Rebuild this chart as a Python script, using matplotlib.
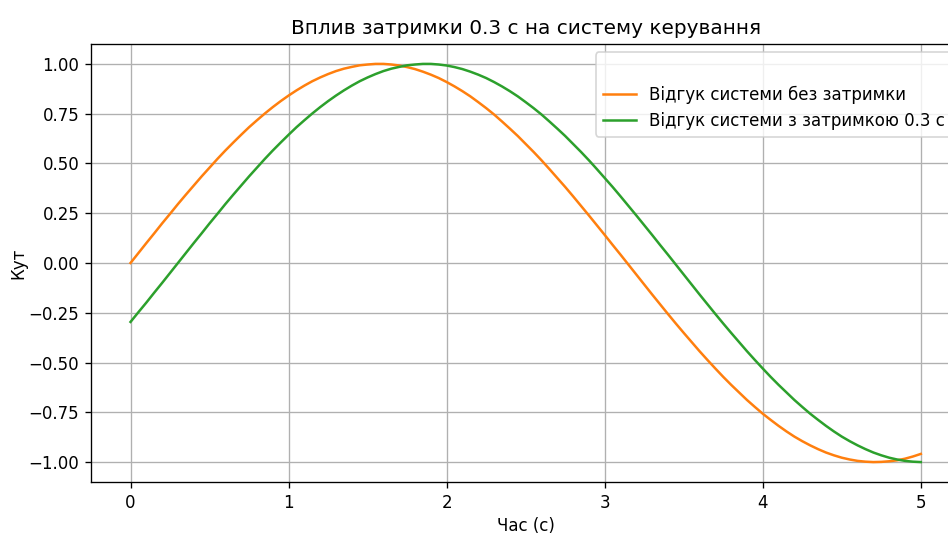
import matplotlib.pyplot as plt

# time axis, 0..5 s, step 0.05
t = [0.00, 0.05, 0.10, 0.15, 0.20, 0.25, 0.30, 0.35, 0.40, 0.45,
     0.50, 0.55, 0.60, 0.65, 0.70, 0.75, 0.80, 0.85, 0.90, 0.95,
     1.00, 1.05, 1.10, 1.15, 1.20, 1.25, 1.30, 1.35, 1.40, 1.45,
     1.50, 1.55, 1.60, 1.65, 1.70, 1.75, 1.80, 1.85, 1.90, 1.95,
     2.00, 2.05, 2.10, 2.15, 2.20, 2.25, 2.30, 2.35, 2.40, 2.45,
     2.50, 2.55, 2.60, 2.65, 2.70, 2.75, 2.80, 2.85, 2.90, 2.95,
     3.00, 3.05, 3.10, 3.15, 3.20, 3.25, 3.30, 3.35, 3.40, 3.45,
     3.50, 3.55, 3.60, 3.65, 3.70, 3.75, 3.80, 3.85, 3.90, 3.95,
     4.00, 4.05, 4.10, 4.15, 4.20, 4.25, 4.30, 4.35, 4.40, 4.45,
     4.50, 4.55, 4.60, 4.65, 4.70, 4.75, 4.80, 4.85, 4.90, 4.95, 5.00]

# angle without delay
no_delay = [0.000, 0.050, 0.100, 0.149, 0.199, 0.247, 0.296, 0.343, 0.389, 0.435,
            0.479, 0.523, 0.565, 0.605, 0.644, 0.682, 0.717, 0.751, 0.783, 0.813,
            0.841, 0.867, 0.891, 0.913, 0.932, 0.949, 0.964, 0.976, 0.985, 0.993,
            0.997, 1.000, 1.000, 0.997, 0.992, 0.984, 0.974, 0.961, 0.946, 0.929,
            0.909, 0.887, 0.863, 0.837, 0.808, 0.778, 0.746, 0.711, 0.675, 0.638,
            0.598, 0.558, 0.516, 0.472, 0.427, 0.382, 0.335, 0.287, 0.239, 0.190,
            0.141, 0.091, 0.042, -0.008, -0.058, -0.108, -0.158, -0.207, -0.256, -0.304,
            -0.351, -0.397, -0.443, -0.487, -0.530, -0.572, -0.612, -0.650, -0.688, -0.723,
            -0.757, -0.788, -0.818, -0.846, -0.872, -0.895, -0.916, -0.935, -0.952, -0.966,
            -0.978, -0.987, -0.994, -0.998, -1.000, -0.999, -0.996, -0.991, -0.983, -0.972, -0.959]

# angle with 0.3 s delay
with_delay = [-0.296, -0.247, -0.199, -0.149, -0.100, -0.050, 0.000, 0.050, 0.100, 0.149,
              0.199, 0.247, 0.296, 0.343, 0.389, 0.435, 0.479, 0.523, 0.565, 0.605,
              0.644, 0.682, 0.717, 0.751, 0.783, 0.813, 0.841, 0.867, 0.891, 0.913,
              0.932, 0.949, 0.964, 0.976, 0.985, 0.993, 0.997, 1.000, 1.000, 0.997,
              0.992, 0.984, 0.974, 0.961, 0.946, 0.929, 0.909, 0.887, 0.863, 0.837,
              0.808, 0.778, 0.746, 0.711, 0.675, 0.638, 0.598, 0.558, 0.516, 0.472,
              0.427, 0.382, 0.335, 0.287, 0.239, 0.190, 0.141, 0.091, 0.042, -0.008,
              -0.058, -0.108, -0.158, -0.207, -0.256, -0.304, -0.351, -0.397, -0.443, -0.487,
              -0.530, -0.572, -0.612, -0.650, -0.688, -0.723, -0.757, -0.788, -0.818, -0.846,
              -0.872, -0.895, -0.916, -0.935, -0.952, -0.966, -0.978, -0.987, -0.994, -0.998, -1.000]

fig = plt.figure(figsize=(7.9, 4.45), dpi=120)
# axes run a bit past the right edge of the canvas
ax = fig.add_axes([0.096, 0.0974, 0.917, 0.8202])

ax.plot(t, no_delay, color='#ff7f0e', label='Відгук системи без затримки')
ax.plot(t, with_delay, color='#2ca02c', label='Відгук системи з затримкою 0.3 с')

ax.set_title('Вплив затримки 0.3 с на систему керування')
ax.set_xlabel('Час (с)', labelpad=3)
ax.set_ylabel('Кут', labelpad=1)
ax.grid(True)
ax.legend(loc='upper right', title=' ')

fig.savefig('out.png', dpi=120)
